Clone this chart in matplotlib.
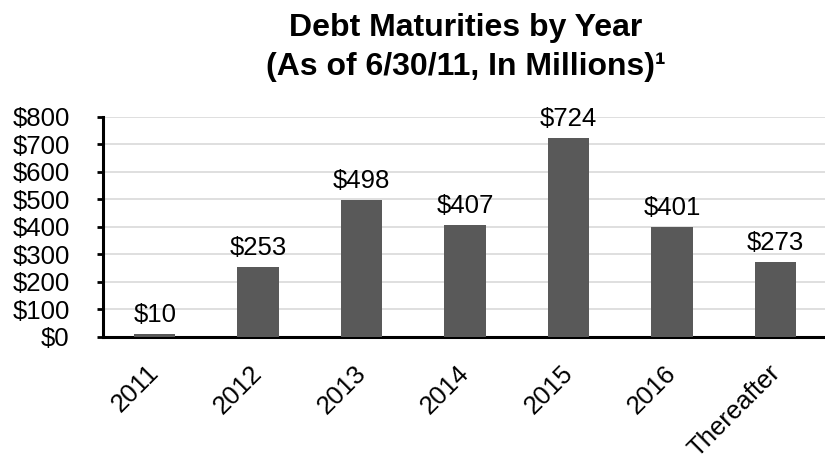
import numpy as np
import matplotlib
matplotlib.use("Agg")
import matplotlib.pyplot as plt
import matplotlib.transforms as mtransforms
from matplotlib.ticker import FuncFormatter

plt.rcParams['font.family'] = ['Liberation Sans', 'DejaVu Sans']

# data
years = ['2011', '2012', '2013', '2014', '2015', '2016', 'Thereafter']
maturities = [10, 253, 498, 407, 724, 401, 273]
yticks = [0, 100, 200, 300, 400, 500, 600, 700, 800]

fig = plt.figure(figsize=(8.25, 4.59), dpi=100)
ax = fig.add_axes([0.1248, 0.2658, 0.878, 0.48])

x = np.arange(len(years))
bars = ax.bar(x, maturities, width=0.4, color='#595959', zorder=3)

for xi, v in zip(x, maturities):
    ax.annotate('$' + str(v), (xi, v), xytext=(0, 5), textcoords='offset points',
                ha='center', va='bottom', fontsize=18.5, color='black')

ax.set_xlim(-0.5, len(years) - 0.5)
ax.set_ylim(0, 800)
ax.set_yticks(yticks)
ax.yaxis.set_major_formatter(FuncFormatter(lambda v, p: '$' + str(int(v))))
ax.grid(axis='y', color='#d9d9d9', linewidth=1.2, zorder=0)

ax.set_xticks(x)
ax.set_xticklabels(years, rotation=45, ha='right', rotation_mode='anchor')
ax.tick_params(axis='x', length=0, pad=17, labelsize=18.5)
ax.tick_params(axis='y', length=4, width=2, pad=20, labelsize=18.5)

# nudge rotated labels a little to the left
shift = mtransforms.ScaledTranslation(-8 / 100, 0, fig.dpi_scale_trans)
for lbl in ax.get_xticklabels():
    lbl.set_transform(lbl.get_transform() + shift)

for s in ['top', 'right']:
    ax.spines[s].set_visible(False)
for s in ['left', 'bottom']:
    ax.spines[s].set_linewidth(2.2)

fig.text(0.565, 0.9216, 'Debt Maturities by Year', ha='center', va='baseline',
         fontsize=23, fontweight='bold')
fig.text(0.565, 0.8366, '(As of 6/30/11, In Millions)\u00b9', ha='center', va='baseline',
         fontsize=23, fontweight='bold')

fig.savefig('out.png', dpi=100)
